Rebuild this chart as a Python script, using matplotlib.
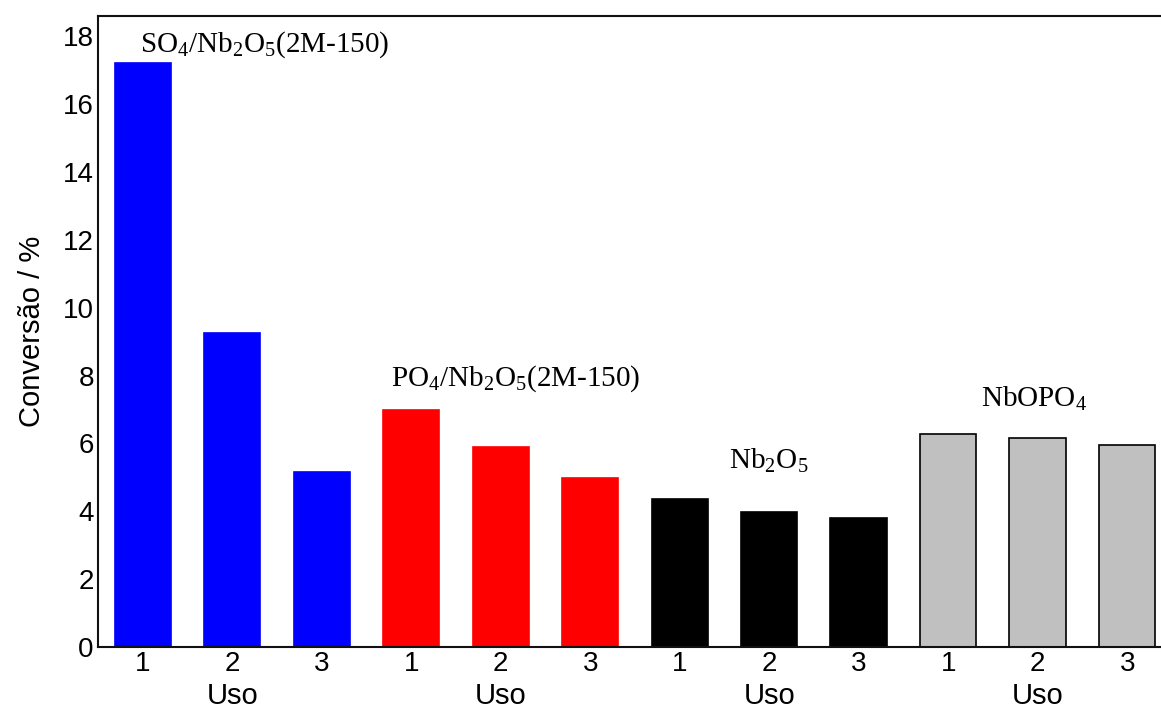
import matplotlib
matplotlib.use('Agg')
import matplotlib.pyplot as plt
import matplotlib.transforms as mtransforms

plt.rcParams['font.family'] = ['Liberation Sans', 'DejaVu Sans']
plt.rcParams['mathtext.fontset'] = 'custom'
plt.rcParams['mathtext.rm'] = 'Liberation Serif'
plt.rcParams['mathtext.it'] = 'Liberation Serif'

# values
catalysts = ['SO4/Nb2O5(2M-150)', 'PO4/Nb2O5(2M-150)', 'Nb2O5', 'NbOPO4']
uses = ['1', '2', '3']
so4_values = [17.2, 9.25, 5.15]
po4_values = [6.98, 5.89, 4.98]
nb2o5_values = [4.36, 3.98, 3.80]
nbopo4_values = [6.27, 6.16, 5.95]

group_values = [so4_values, po4_values, nb2o5_values, nbopo4_values]
group_colors = ['#0000ff', '#ff0000', '#000000', '#c0c0c0']
group_labels = [r'SO$_4$/Nb$_2$O$_5$(2M-150)', r'PO$_4$/Nb$_2$O$_5$(2M-150)',
                r'Nb$_2$O$_5$', r'NbOPO$_4$']
label_pos = [(1.36, 17.75), (4.17, 7.9), (7.0, 5.5), (9.96, 7.3)]

fig = plt.figure(figsize=(11.61, 7.11), dpi=100)
ax = fig.add_axes([0.0844, 0.090, 0.925, 0.8875])

for g, vals in enumerate(group_values):
    xs = [g * 3 + i for i in range(len(vals))]
    edge = 'black' if group_colors[g] == '#c0c0c0' else group_colors[g]
    ax.bar(xs, vals, width=0.63, color=group_colors[g], edgecolor=edge, linewidth=1.2)
    ax.text(label_pos[g][0], label_pos[g][1], group_labels[g], ha='center', va='center',
            fontsize=21, family='Liberation Serif')

ax.set_xlim(-0.5, 11.5)
ax.set_ylim(0, 18.6)
ax.set_xticks(range(12))
ax.set_xticklabels(uses * 4)
ax.set_yticks(range(0, 19, 2))
ax.tick_params(length=0, labelsize=20, pad=3)

trans = mtransforms.blended_transform_factory(ax.transData, ax.transAxes)
for g in range(4):
    ax.text(g * 3 + 1, -0.078, 'Uso', transform=trans, ha='center', va='center', fontsize=21)

ax.set_ylabel('Conversão / %', fontsize=21, labelpad=12)

for s in ax.spines.values():
    s.set_linewidth(1.5)
    s.set_color('#111111')

fig.savefig('out.png', dpi=100)
